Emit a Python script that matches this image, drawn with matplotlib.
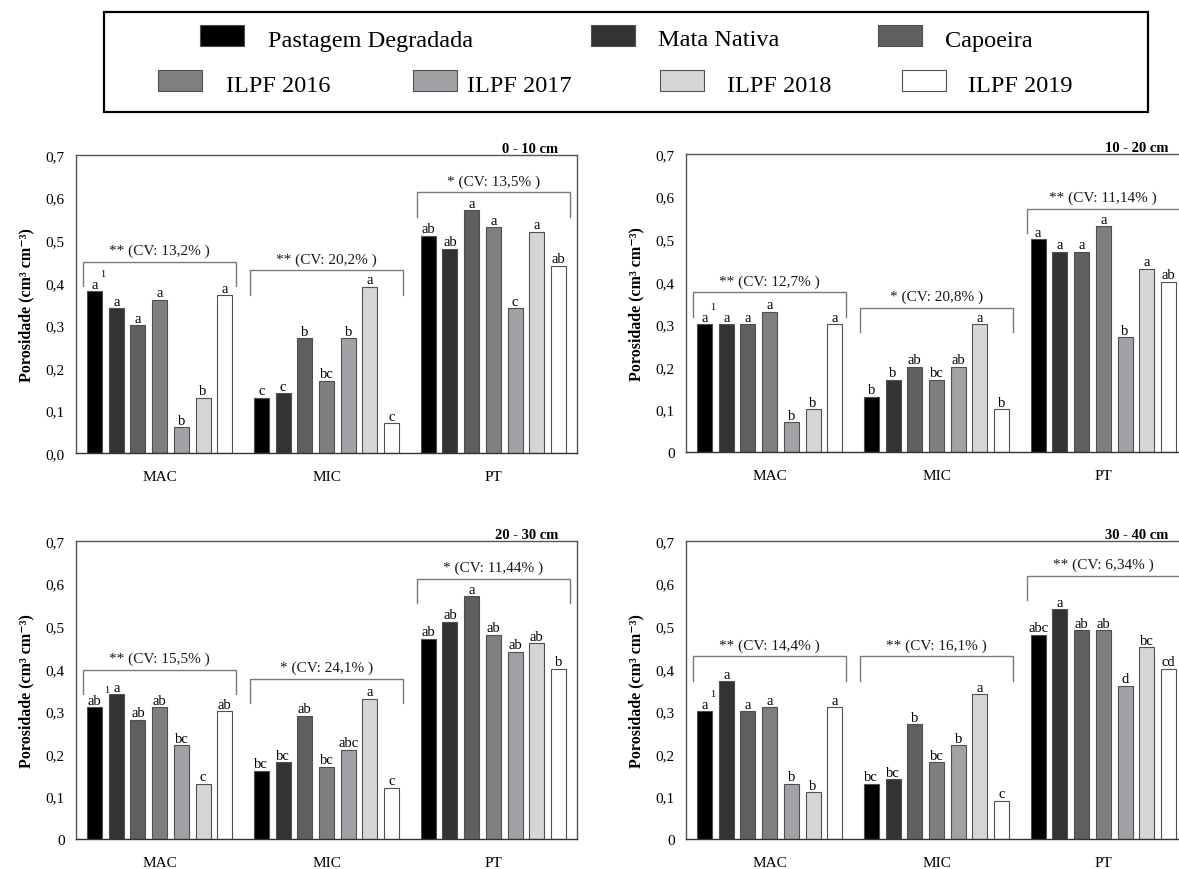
import matplotlib
matplotlib.use('Agg')
import matplotlib.pyplot as plt
from matplotlib.patches import Rectangle

plt.rcParams['font.family'] = ['Liberation Serif', 'DejaVu Serif']

treatments = ['Pastagem Degradada', 'Mata Nativa', 'Capoeira',
              'ILPF 2016', 'ILPF 2017', 'ILPF 2018', 'ILPF 2019']
colors = ['#000000', '#333333', '#5f5f5f', '#7f7f7f', '#a2a2a6', '#d6d6d6', '#ffffff']
groups = ['MAC', 'MIC', 'PT']
depths = ['0 - 10 cm', '10 - 20 cm', '20 - 30 cm', '30 - 40 cm']

# porosity, rows = MAC, MIC, PT ; columns = treatments
por_0_10 = [[0.38, 0.34, 0.30, 0.36, 0.06, 0.13, 0.37],
            [0.13, 0.14, 0.27, 0.17, 0.27, 0.39, 0.07],
            [0.51, 0.48, 0.57, 0.53, 0.34, 0.52, 0.44]]
por_10_20 = [[0.30, 0.30, 0.30, 0.33, 0.07, 0.10, 0.30],
             [0.13, 0.17, 0.20, 0.17, 0.20, 0.30, 0.10],
             [0.50, 0.47, 0.47, 0.53, 0.27, 0.43, 0.40]]
por_20_30 = [[0.31, 0.34, 0.28, 0.31, 0.22, 0.13, 0.30],
             [0.16, 0.18, 0.29, 0.17, 0.21, 0.33, 0.12],
             [0.47, 0.51, 0.57, 0.48, 0.44, 0.46, 0.40]]
por_30_40 = [[0.30, 0.37, 0.30, 0.31, 0.13, 0.11, 0.31],
             [0.13, 0.14, 0.27, 0.18, 0.22, 0.34, 0.09],
             [0.48, 0.54, 0.49, 0.49, 0.36, 0.45, 0.40]]

let_0_10 = [['a', 'a', 'a', 'a', 'b', 'b', 'a'],
            ['c', 'c', 'b', 'bc', 'b', 'a', 'c'],
            ['ab', 'ab', 'a', 'a', 'c', 'a', 'ab']]
let_10_20 = [['a', 'a', 'a', 'a', 'b', 'b', 'a'],
             ['b', 'b', 'ab', 'bc', 'ab', 'a', 'b'],
             ['a', 'a', 'a', 'a', 'b', 'a', 'ab']]
let_20_30 = [['ab', 'a', 'ab', 'ab', 'bc', 'c', 'ab'],
             ['bc', 'bc', 'ab', 'bc', 'abc', 'a', 'c'],
             ['ab', 'ab', 'a', 'ab', 'ab', 'ab', 'b']]
let_30_40 = [['a', 'a', 'a', 'a', 'b', 'b', 'a'],
             ['bc', 'bc', 'b', 'bc', 'b', 'a', 'c'],
             ['abc', 'a', 'ab', 'ab', 'd', 'bc', 'cd']]

cv_0_10 = ['** (CV: 13,2% )', '** (CV: 20,2% )', '* (CV: 13,5% )']
cv_10_20 = ['** (CV: 12,7% )', '* (CV: 20,8% )', '** (CV: 11,14% )']
cv_20_30 = ['** (CV: 15,5% )', '* (CV: 24,1% )', '* (CV: 11,44% )']
cv_30_40 = ['** (CV: 14,4% )', '** (CV: 16,1% )', '** (CV: 6,34% )']

# height of the bracket line over each group
br_0_10 = [0.449, 0.429, 0.612]
br_10_20 = [0.375, 0.339, 0.571]
br_20_30 = [0.398, 0.376, 0.611]
br_30_40 = [0.429, 0.429, 0.618]

values = [por_0_10, por_10_20, por_20_30, por_30_40]
letters = [let_0_10, let_10_20, let_20_30, let_30_40]
cvs = [cv_0_10, cv_10_20, cv_20_30, cv_30_40]
brackets = [br_0_10, br_10_20, br_20_30, br_30_40]

W, H = 1179, 870
fig = plt.figure(figsize=(W / 100, H / 100), dpi=100)

panel_pos = [[76, 156], [686, 155], [76, 542], [686, 542]]  # left, top in px
aw, ah = 501, 298
centers = [0, 7.68, 15.36]

for k in range(4):
    l, t = panel_pos[k]
    ax = fig.add_axes([l / W, 1 - (t + ah) / H, aw / W, ah / H])
    vals = values[k]
    for j in range(7):
        xs = [c + j - 3 for c in centers]
        hs = [vals[g][j] for g in range(3)]
        ax.bar(xs, hs, width=0.69, color=colors[j], edgecolor='#505050',
               linewidth=0.8, label=treatments[j], zorder=2)
        for g in range(3):
            ax.annotate(letters[k][g][j], (xs[g], hs[g]), xytext=(0, 2.5),
                        textcoords='offset points', ha='center', va='baseline',
                        fontsize=10.5)
    # superscript note on the first bar
    first = letters[k][0][0]
    ax.annotate('1', (centers[0] - 3, vals[0][0]), xytext=(3 + 3 * len(first), 11),
                textcoords='offset points', ha='center', va='baseline', fontsize=7.5)

    for g in range(3):
        c = centers[g]
        top = brackets[k][g]
        bot = top - 0.057
        ax.plot([c - 3.52, c - 3.52, c + 3.52, c + 3.52], [bot, top, top, bot],
                color='#7a7a7a', lw=1, clip_on=False, zorder=3)
        ax.annotate(cvs[k][g], (c, top), xytext=(0, 5.5), textcoords='offset points',
                    ha='center', va='baseline', fontsize=11, color='#1a1a1a')

    ax.text(0.963, 1.01, depths[k], transform=ax.transAxes, ha='right',
            va='baseline', fontsize=10.5, fontweight='bold')

    ax.set_xlim(-3.85, 19.21)
    ax.set_ylim(0, 0.7)
    ax.set_yticks([0, 0.1, 0.2, 0.3, 0.4, 0.5, 0.6, 0.7])
    zero = '0,0' if k == 0 else '0'
    ax.set_yticklabels([zero, '0,1', '0,2', '0,3', '0,4', '0,5', '0,6', '0,7'])
    ax.set_xticks(centers)
    ax.set_xticklabels(groups)
    ax.tick_params(axis='y', length=0, pad=8, labelsize=11)
    ax.tick_params(axis='x', length=0, pad=12, labelsize=11)
    ax.set_ylabel('Porosidade (cm³ cm⁻³)', fontsize=11.5, fontweight='bold')
    ax.yaxis.set_label_coords(-0.083, 0.5)
    for s in ax.spines.values():
        s.set_color('#555555')
        s.set_linewidth(1)
    ax.spines['bottom'].set_color('#333333')

# legend box on top
lax = fig.add_axes([0, 0, 1, 1])
lax.set_xlim(0, W)
lax.set_ylim(H, 0)
lax.axis('off')
lax.add_patch(Rectangle((104, 13), 1044, 100, fill=False, edgecolor='black', lw=1.6))

leg_patch_x = [200, 591, 878, 158, 413, 660, 902]
leg_text_x = [268, 658, 945, 226, 467, 727, 968]
leg_row = [0, 0, 0, 1, 1, 1, 1]
row_base = [46.5, 92]
for j in range(7):
    yb = row_base[leg_row[j]]
    lax.add_patch(Rectangle((leg_patch_x[j], yb - 21), 44, 21, facecolor=colors[j],
                            edgecolor='#505050', lw=0.8))
    lax.text(leg_text_x[j], yb, treatments[j], ha='left', va='baseline', fontsize=17.5)

fig.savefig('out.png', dpi=100)
